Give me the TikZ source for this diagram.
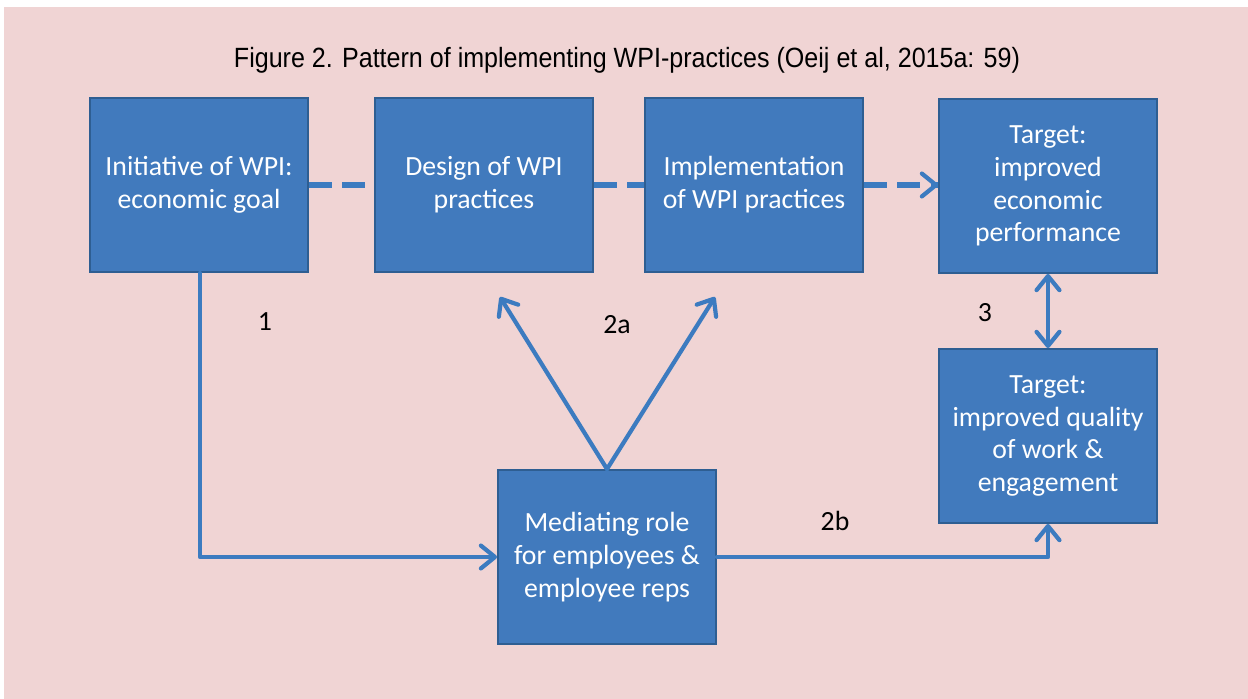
\documentclass[tikz,border=0pt]{standalone}
\usepackage{fontspec}
\setmainfont{Carlito}
\newfontfamily\titlefont{Liberation Sans}[FakeStretch=0.9]
\usetikzlibrary{arrows.meta}

\definecolor{bgpink}{HTML}{F0D4D4}
\definecolor{boxfill}{HTML}{417ABD}
\definecolor{boxline}{HTML}{2E5E92}
\definecolor{arrowblue}{HTML}{3C7BC0}

\begin{document}
\begin{tikzpicture}[x=0.02cm, y=-0.02cm, font=\fontsize{15.8}{18.7}\selectfont]
  \tikzset{
    box/.style={draw=boxline, line width=1.1pt, fill=boxfill, text=white,
      minimum width=4.36cm, minimum height=3.48cm, align=center, inner sep=0pt},
    link/.style={arrowblue, line width=2.4pt, line cap=round, line join=round},
    dlink/.style={arrowblue, line width=3pt, dash pattern=on 13pt off 6pt},
    tip/.style={-{Straight Barb[length=8pt, width=13pt, round]}},
    num/.style={text=black}
  }

  % Achtergrond
  \useasboundingbox (0,0) rectangle (1248,699);
  \fill[white] (0,0) rectangle (1248,699);
  \fill[bgpink] (4,7) rectangle (1248,699);

  % Titel
  \node (title) at (627,60) {\titlefont\fontsize{15.85}{18}\selectfont Figure 2. Pattern of implementing WPI-practices (Oeij et al, 2015a: 59)};

  % Blokken
  \node[box] (init) at (199,185) {Initiative of WPI:\\economic goal};
  \node[box] (design) at (484,185) {Design of WPI\\practices};
  \node[box] (impl) at (754,185) {Implementation\\of WPI practices};
  \node[box] (econ) at (1048,186) {Target:\\improved\\economic\\performance};
  \node[box] (quality) at (1048,436) {Target:\\improved quality\\of work \&\\engagement};
  \node[box] (mediate) at (607,557) {Mediating role\\for employees \&\\employee reps};

  % Gestreepte lijn bovenaan
  \draw[dlink] (init.east) -- (design.west);
  \draw[dlink] (design.east) -- (impl.west);
  \draw[dlink] (impl.east) -- (econ.west |- impl.east) coordinate (econtip);
  \draw[link, tip] ([xshift=-2pt]econtip) -- (econtip);

  % Pijlen
  \coordinate (p1) at (500,297);
  \coordinate (p2) at (715,297);
  \draw[link, tip] (init.south -| 200,0) |- (mediate.west);
  \draw[link, tip] (mediate.north) -- (p1);
  \draw[link, tip] (mediate.north) -- (p2);
  \draw[link, tip] (mediate.east) -| (quality.south);
  \draw[link, {Straight Barb[length=8pt, width=13pt, round]}-{Straight Barb[length=8pt, width=13pt, round]}] (econ.south) -- (quality.north);

  % Nummers
  \node[num] (n1) at (265,322) {1};
  \node[num] (n2a) at (617,325) {2a};
  \node[num] (n3) at (985,313) {3};
  \node[num] (n2b) at (835,521) {2b};
\end{tikzpicture}
\end{document}
